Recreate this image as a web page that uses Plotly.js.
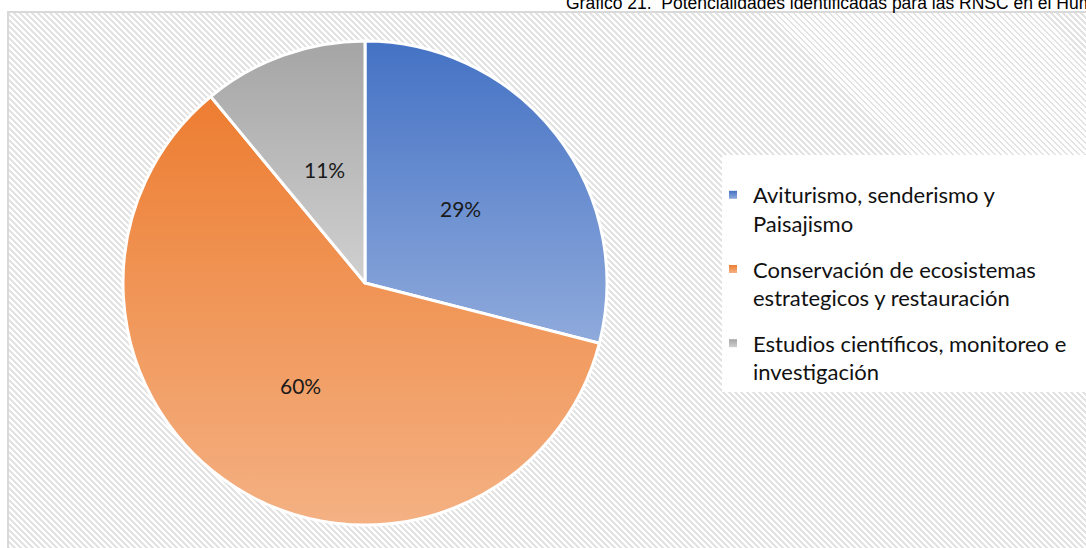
<!DOCTYPE html>
<html>
<head>
<meta charset="utf-8">
<script src="https://cdn.plot.ly/plotly-3.0.1.min.js"></script>
<style>
html,body{margin:0;padding:0;background:#ffffff;}
#wrap{position:relative;width:1086px;height:548px;overflow:hidden;background:#ffffff;}
#bg{position:absolute;left:7px;top:11px;width:1110px;height:570px;box-sizing:border-box;border:2px solid #d9d9d9;
  background:repeating-linear-gradient(45deg,#e3e3e3 0px,#e3e3e3 2px,#ffffff 2px,#ffffff 4.24px);}
#chart{position:absolute;left:0;top:0;width:1086px;height:548px;}
</style>
</head>
<body>
<div id="wrap"><div id="bg"></div><div id="chart"></div></div>
<script>
// ---- data ----
const categories = [
  "Aviturismo, senderismo y<br>Paisajismo",
  "Conservación de ecosistemas<br>estrategicos y restauración",
  "Estudios científicos, monitoreo e<br>investigación"
];
const values = [29, 60, 11];
const chartTitle = "Gráfico 21.  Potencialidades identificadas para las RNSC en el Hum";

// ---- styles ----
const topColors = ["#4472C4", "#ED7D31", "#A5A5A5"];
const bottomColors = ["#8FAADC", "#F4B183", "#D0D0D0"];
const midColors = ["#6A8ED0", "#F09A60", "#BBBBBB"];

const W = 1086, H = 548;
const pieDomain = {x: [123/W, 607/W], y: [23/H, 507/H]};
const radiusPx = (pieDomain.x[1] - pieDomain.x[0]) * W / 2;

const pie = {
  type: 'pie',
  labels: categories,
  values: values,
  sort: false,
  direction: 'clockwise',
  rotation: 0,
  textinfo: 'none',
  marker: {colors: midColors, line: {color: '#ffffff', width: 3}},
  domain: pieDomain,
  showlegend: false,
  hoverinfo: 'skip'
};

const legendTraces = categories.map((c, i) => ({
  type: 'scatter',
  x: [null], y: [null],
  mode: 'markers',
  name: c,
  legendgroup: 'g' + i,
  marker: {symbol: 'square', size: 8, color: midColors[i]},
  hoverinfo: 'skip'
}));

// percentage labels placed at half radius on each slice's middle angle
const total = values.reduce((a, b) => a + b, 0);
const cx = (pieDomain.x[0] + pieDomain.x[1]) / 2;
const cy = (pieDomain.y[0] + pieDomain.y[1]) / 2;
let cum = 0;
const annotations = values.map(v => {
  const mid = (cum + v / 2) / total * 2 * Math.PI;
  cum += v;
  const r = radiusPx * 0.5;
  return {
    xref: 'paper', yref: 'paper',
    x: cx + r * Math.sin(mid) / W,
    y: cy + r * Math.cos(mid) / H,
    xanchor: 'center', yanchor: 'middle',
    text: Math.round(v / total * 100) + '%',
    showarrow: false,
    font: {family: 'Lato, sans-serif', size: 21, color: '#1a1a1a'}
  };
});

const layout = {
  width: W, height: H,
  margin: {l: 0, r: 0, t: 0, b: 0, pad: 0},
  paper_bgcolor: 'rgba(0,0,0,0)',
  plot_bgcolor: 'rgba(0,0,0,0)',
  xaxis: {visible: false},
  yaxis: {visible: false},
  title: {
    text: chartTitle,
    x: 566/W, xanchor: 'left', xref: 'container',
    y: 1 - 2.5/H, yanchor: 'middle', yref: 'container',
    font: {family: 'Liberation Sans, Arial, sans-serif', size: 17.5, color: '#000000'}
  },
  annotations: annotations,
  shapes: [{
    type: 'rect', xref: 'paper', yref: 'paper',
    x0: 722/W, x1: 1.01, y0: 1 - 392/H, y1: 1 - 155/H,
    fillcolor: '#ffffff', line: {width: 0}, layer: 'below'
  }],
  showlegend: true,
  legend: {
    x: 713/W, xanchor: 'left',
    y: 1 - 174/H, yanchor: 'top',
    bgcolor: 'rgba(0,0,0,0)',
    borderwidth: 0,
    traceorder: 'grouped',
    tracegroupgap: 14,
    valign: 'top',
    font: {family: 'Lato, sans-serif', size: 22, color: '#111111'}
  }
};

Plotly.newPlot('chart', [pie].concat(legendTraces), layout, {staticPlot: true, displayModeBar: false}).then(gd => {
  const ns = 'http://www.w3.org/2000/svg';
  const svg = gd.querySelector('svg.main-svg');
  let defs = svg.querySelector('defs');
  if (!defs) { defs = document.createElementNS(ns, 'defs'); svg.insertBefore(defs, svg.firstChild); }
  const mk = (id, c1, c2) => {
    const g = document.createElementNS(ns, 'linearGradient');
    g.setAttribute('id', id);
    g.setAttribute('x1', '0'); g.setAttribute('y1', '0');
    g.setAttribute('x2', '0'); g.setAttribute('y2', '1');
    [[0, c1], [1, c2]].forEach(([o, c]) => {
      const s = document.createElementNS(ns, 'stop');
      s.setAttribute('offset', o);
      s.setAttribute('stop-color', c);
      g.appendChild(s);
    });
    defs.appendChild(g);
  };
  topColors.forEach((c, i) => mk('sliceGrad' + i, c, bottomColors[i]));
  gd.querySelectorAll('g.slice path.surface').forEach((p, i) => {
    p.style.fill = 'url(#sliceGrad' + i + ')';
  });
  gd.querySelectorAll('g.legend .traces').forEach((t, i) => {
    t.querySelectorAll('path.scatterpts').forEach(p => { p.style.fill = 'url(#sliceGrad' + i + ')'; });
  });
});
</script>
</body>
</html>
